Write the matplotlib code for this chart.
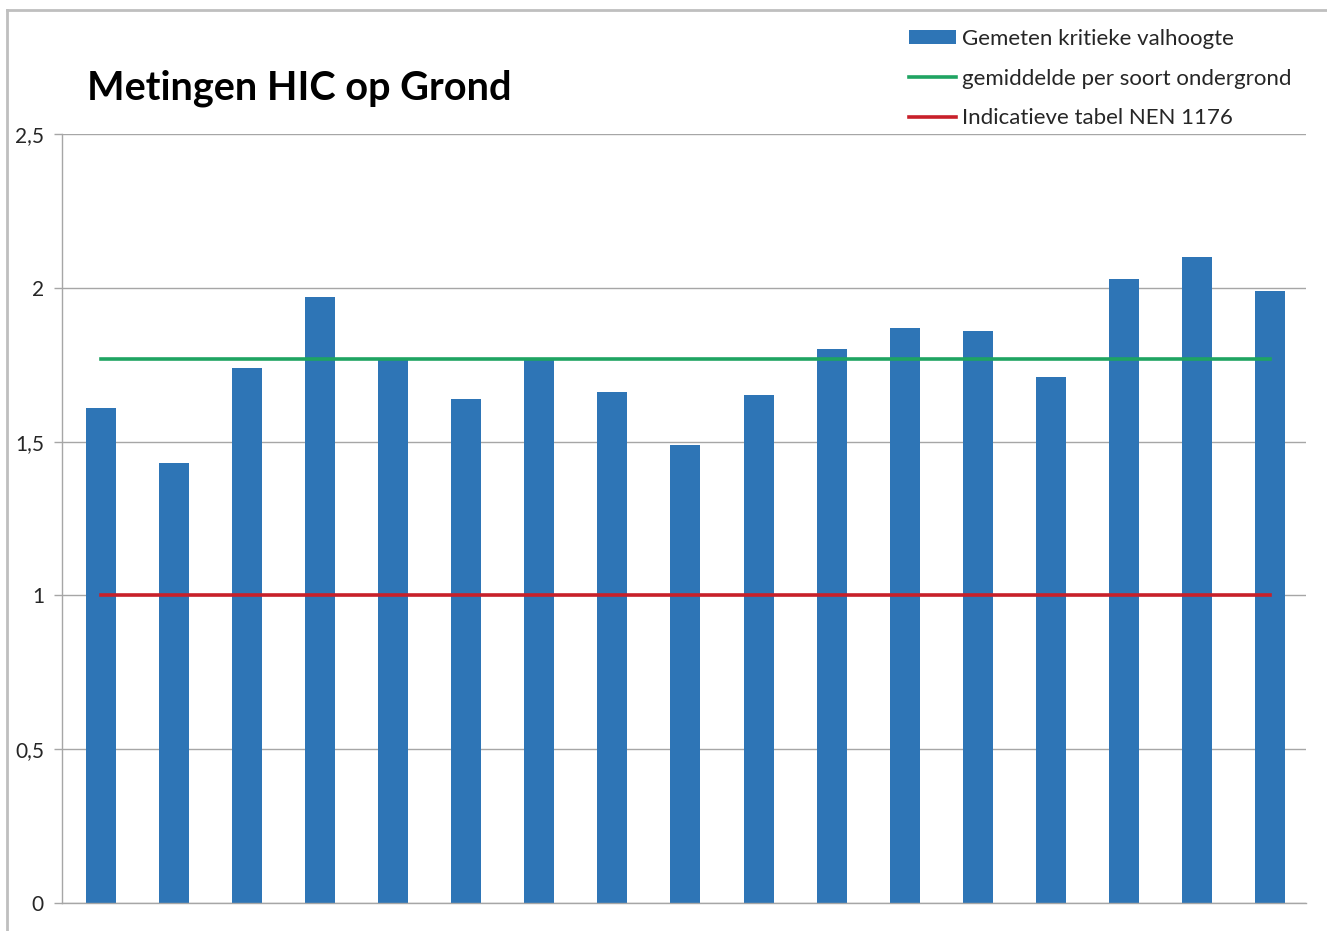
import matplotlib
matplotlib.use("Agg")
import matplotlib.pyplot as plt
from matplotlib.lines import Line2D
import numpy as np

# Measured critical fall heights per test location
valhoogte = [1.61, 1.43, 1.74, 1.97, 1.77, 1.64, 1.77, 1.66, 1.49,
             1.65, 1.80, 1.87, 1.86, 1.71, 2.03, 2.10, 1.99]
gemiddelde = 1.77
nen_1176 = 1.0

y_ticks = [0, 0.5, 1, 1.5, 2, 2.5]
y_labels = ["0", "0,5", "1", "1,5", "2", "2,5"]

title = "Metingen HIC op Grond"
label_bars = "Gemeten kritieke valhoogte"
label_mean = "gemiddelde per soort ondergrond"
label_nen = "Indicatieve tabel NEN 1176"

BLUE = "#2E75B6"
GREEN = "#1FA462"
RED = "#C8202A"
GRID = "#A6A6A6"

plt.rcParams["font.family"] = ["Lato", "DejaVu Sans"]

fig = plt.figure(figsize=(13.27, 9.31), dpi=100)
ax = fig.add_axes([62 / 1327, 1 - 903 / 931, (1306 - 62) / 1327, (903 - 134) / 931])

x = np.arange(len(valhoogte))
bars = ax.bar(x, valhoogte, width=0.41, color=BLUE, zorder=2, label=label_bars)
l_mean, = ax.plot([x[0], x[-1]], [gemiddelde, gemiddelde], color=GREEN, lw=2.6,
                  zorder=3, label=label_mean)
l_nen, = ax.plot([x[0], x[-1]], [nen_1176, nen_1176], color=RED, lw=2.6,
                 zorder=3, label=label_nen)

ax.set_xlim(-0.53, 16.49)
ax.set_ylim(0, 2.5)
ax.set_yticks(y_ticks)
ax.set_yticklabels(y_labels, fontsize=15, color="#262626")
ax.set_xticks([])
ax.yaxis.grid(True, color=GRID, lw=1.0, zorder=0)
ax.tick_params(axis="y", length=6, width=1, color=GRID, pad=7)

for side in ("top", "right"):
    ax.spines[side].set_visible(False)
for side in ("left", "bottom"):
    ax.spines[side].set_color(GRID)
    ax.spines[side].set_linewidth(1.0)

fig.text(87 / 1327, 1 - 88 / 931, title, fontsize=28.5, fontweight="bold",
         ha="left", va="center", color="black")

leg = fig.legend([bars, l_mean, l_nen], [label_bars, label_mean, label_nen],
                 loc="upper left", bbox_to_anchor=(909 / 1327, 1 - 29 / 931),
                 frameon=False, fontsize=16, handlelength=2.1,
                 handleheight=0.55, handletextpad=0.28, labelspacing=0.88,
                 borderaxespad=0, borderpad=0)
for t in leg.get_texts():
    t.set_color("#262626")

# outer chart border
fig.add_artist(Line2D([7 / 1327, 7 / 1327], [0, 1 - 10 / 931],
                      transform=fig.transFigure, color="#BFBFBF", lw=2))
fig.add_artist(Line2D([7 / 1327, 1], [1 - 10 / 931, 1 - 10 / 931],
                      transform=fig.transFigure, color="#BFBFBF", lw=2))

fig.savefig("out.png", dpi=100)
